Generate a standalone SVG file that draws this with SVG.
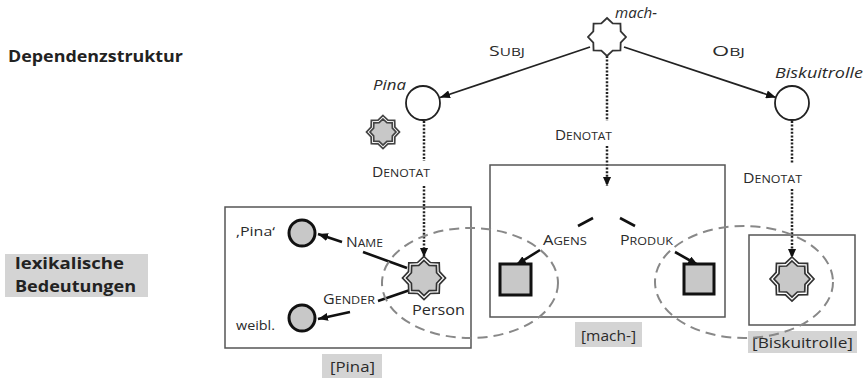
<svg xmlns="http://www.w3.org/2000/svg" xmlns:xlink="http://www.w3.org/1999/xlink" width="867" height="381" viewBox="0 0 867 381">
<style>
.t{font-family:"Open Sans","Liberation Sans",sans-serif;fill:#2a2a2a}
.b{font-weight:bold;font-size:15.5px;fill:#222}
.i{font-style:italic;font-size:15px}
.sc{font-size:14px}
.sc tspan{font-size:11px}
.n{font-size:15px}
.s{font-size:12px}
.box{fill:none;stroke:#555;stroke-width:1.5}
.lbl{fill:#d4d4d4}
.ell{fill:none;stroke:#888;stroke-width:2;stroke-dasharray:10 6}
.arr{stroke:#222;stroke-width:1.8;fill:none}
.thk{stroke:#111;stroke-width:2.6;fill:none}
.dot{stroke:#222;stroke-width:2.5;stroke-dasharray:2 1.6;fill:none}
.circ{fill:#fff;stroke:#222;stroke-width:1.8}
.gc{fill:#c8c8c8;stroke:#111;stroke-width:3}
.sq{fill:#c8c8c8;stroke:#111;stroke-width:3}
</style>
<defs>
<path id="star" vector-effect="non-scaling-stroke" d="M0,-10 L2.985,-7.206 L7.071,-7.071 L7.206,-2.985 L10,0 L7.206,2.985 L7.071,7.071 L2.985,7.206 L0,10 L-2.985,7.206 L-7.071,7.071 L-7.206,2.985 L-10,0 L-7.206,-2.985 L-7.071,-7.071 L-2.985,-7.206 Z"/>
<marker id="ah" viewBox="0 0 10 8" refX="10" refY="4" markerWidth="10" markerHeight="8" markerUnits="userSpaceOnUse" orient="auto"><path d="M0,0 L10,4 L0,8 Z" fill="#111"/></marker>
<marker id="ahd" viewBox="0 0 10 9" refX="10" refY="4.5" markerWidth="9" markerHeight="9" markerUnits="userSpaceOnUse" orient="auto"><path d="M0,0 L10,4.5 L0,9 Z" fill="#111"/></marker>
</defs>

<g id="labels-left">
<text class="t b" x="8" y="62" textLength="175" lengthAdjust="spacingAndGlyphs">Dependenzstruktur</text>
<rect class="lbl" x="5" y="254" width="143" height="43"/>
<text class="t b" x="15" y="269" textLength="109" lengthAdjust="spacingAndGlyphs">lexikalische</text>
<text class="t b" x="15" y="292" textLength="121" lengthAdjust="spacingAndGlyphs">Bedeutungen</text>
</g>

<g id="connectors">
<line class="arr" x1="590" y1="47" x2="440" y2="97.5" marker-end="url(#ah)"/>
<line class="arr" x1="624" y1="47" x2="776" y2="97.5" marker-end="url(#ah)"/>
<line class="dot" x1="424" y1="121" x2="424" y2="161"/>
<line class="dot" x1="424" y1="186" x2="424" y2="257" marker-end="url(#ahd)"/>
<line class="dot" x1="607" y1="56" x2="607" y2="121"/>
<line class="dot" x1="607" y1="146" x2="607" y2="186" marker-end="url(#ahd)"/>
<line class="dot" x1="792" y1="121" x2="792" y2="164"/>
<line class="dot" x1="792" y1="189" x2="792" y2="258" marker-end="url(#ahd)"/>
<line class="thk" x1="342" y1="242" x2="318" y2="234" marker-end="url(#ah)"/>
<line class="thk" x1="363" y1="252" x2="407" y2="268"/>
<line class="thk" x1="410" y1="290" x2="378" y2="301"/>
<line class="thk" x1="350" y1="312" x2="318" y2="319" marker-end="url(#ah)"/>
<line class="thk" x1="578" y1="226" x2="593" y2="218"/>
<line class="thk" x1="620" y1="218" x2="635" y2="226"/>
<line class="thk" x1="540" y1="250" x2="516" y2="265" marker-end="url(#ah)"/>
<line class="thk" x1="675" y1="252" x2="698" y2="265" marker-end="url(#ah)"/>
</g>

<g id="node-mach">
<use href="#star" transform="translate(607,37) scale(1.9)" fill="#fff" stroke="#333" stroke-width="1.8"/>
<text class="t i" x="615" y="18" textLength="42" lengthAdjust="spacingAndGlyphs">mach-</text>
</g>

<g id="edge-labels">
<text class="t sc" x="489" y="56" textLength="36" lengthAdjust="spacingAndGlyphs">S<tspan>UBJ</tspan></text>
<text class="t sc" x="712" y="56" textLength="33" lengthAdjust="spacingAndGlyphs">O<tspan>BJ</tspan></text>
<text class="t sc" x="372" y="177" textLength="58" lengthAdjust="spacingAndGlyphs">D<tspan>ENOTAT</tspan></text>
<text class="t sc" x="555" y="140" textLength="57" lengthAdjust="spacingAndGlyphs">D<tspan>ENOTAT</tspan></text>
<text class="t sc" x="743" y="183" textLength="59" lengthAdjust="spacingAndGlyphs">D<tspan>ENOTAT</tspan></text>
</g>

<g id="node-pina">
<circle class="circ" cx="423" cy="103" r="17"/>
<text class="t i" x="373" y="90" textLength="33" lengthAdjust="spacingAndGlyphs">Pina</text>
</g>

<g id="node-pina-star">
<use href="#star" transform="translate(383,132) scale(1.65)" fill="#fff" stroke="#444" stroke-width="1.7"/>
<use href="#star" transform="translate(383,132) scale(1.3)" fill="#c8c8c8" stroke="#444" stroke-width="1.7"/>
</g>

<g id="node-biskuitrolle">
<circle class="circ" cx="792" cy="103" r="17"/>
<text class="t i" x="775" y="78" textLength="88" lengthAdjust="spacingAndGlyphs">Biskuitrolle</text>
</g>

<g id="box-pina">
<rect class="box" x="225" y="207" width="246" height="141"/>
<rect class="lbl" x="322" y="354" width="60" height="24"/>
<text class="t n" x="330" y="372" textLength="45" lengthAdjust="spacingAndGlyphs">[Pina]</text>
</g>

<g id="node-pina-name">
<circle class="gc" cx="302" cy="233" r="13"/>
<text class="t s" x="236" y="236" textLength="39" lengthAdjust="spacingAndGlyphs">‚Pina‘</text>
</g>

<g id="node-weibl">
<circle class="gc" cx="302" cy="318" r="13"/>
<text class="t s" x="236" y="330" textLength="39" lengthAdjust="spacingAndGlyphs">weibl.</text>
</g>

<g id="lbl-name-gender">
<text class="t sc" x="346" y="247" textLength="37" lengthAdjust="spacingAndGlyphs">N<tspan>AME</tspan></text>
<text class="t sc" x="323" y="304" textLength="52" lengthAdjust="spacingAndGlyphs">G<tspan>ENDER</tspan></text>
</g>

<g id="node-person">
<use href="#star" transform="translate(424,278) scale(2.15)" fill="#fff" stroke="#333" stroke-width="1.7"/>
<use href="#star" transform="translate(424,278) scale(1.75)" fill="#c8c8c8" stroke="#333" stroke-width="1.7"/>
<text class="t n" x="412" y="315" textLength="53" lengthAdjust="spacingAndGlyphs">Person</text>
</g>

<g id="box-mach">
<rect class="box" x="490" y="165" width="235" height="152"/>
<rect class="lbl" x="575" y="322" width="67" height="25"/>
<text class="t n" x="581" y="341" textLength="55" lengthAdjust="spacingAndGlyphs">[mach-]</text>
<text class="t sc" x="543" y="245" textLength="44" lengthAdjust="spacingAndGlyphs">A<tspan>GENS</tspan></text>
<text class="t sc" x="620" y="245" textLength="53" lengthAdjust="spacingAndGlyphs">P<tspan>RODUK</tspan></text>
</g>

<g id="node-agens">
<rect class="sq" x="500" y="264" width="31" height="31"/>
</g>

<g id="node-produk">
<rect class="sq" x="684" y="264" width="30" height="30"/>
</g>

<g id="box-biskuitrolle">
<rect class="box" x="749" y="235" width="106" height="90"/>
<rect class="lbl" x="748" y="331" width="109" height="22"/>
<text class="t n" x="752" y="348" textLength="101" lengthAdjust="spacingAndGlyphs">[Biskuitrolle]</text>
</g>

<g id="node-biskuit-star">
<use href="#star" transform="translate(792,279) scale(2.2)" fill="#fff" stroke="#333" stroke-width="1.7"/>
<use href="#star" transform="translate(792,279) scale(1.8)" fill="#c8c8c8" stroke="#333" stroke-width="1.7"/>
</g>

<g id="ellipses">
<ellipse class="ell" cx="470" cy="283" rx="88" ry="55"/>
<ellipse class="ell" cx="744" cy="282" rx="89" ry="56"/>
</g>
</svg>
